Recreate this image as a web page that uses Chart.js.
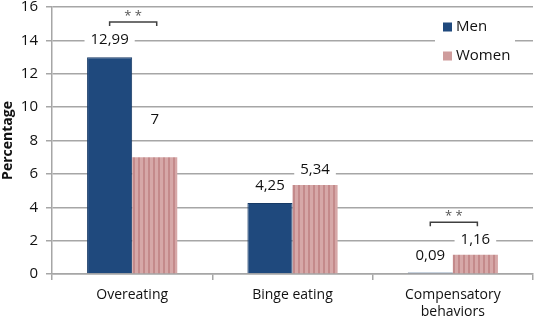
<!DOCTYPE html>
<html>
<head>
<meta charset="utf-8">
<script src="https://cdn.jsdelivr.net/npm/chart.js@4/dist/chart.umd.min.js"></script>
<style>
    html, body { margin: 0; padding: 0; background: #fff; }
    #chart { display: block; }
</style>
</head>
<body>
<canvas id="chart" width="536" height="321"></canvas>
<script>
(function () {
    "use strict";

    // Data
    const categories = ["Overeating", "Binge eating", ["Compensatory", "behaviors"]];
    const men = [12.99, 4.25, 0.09];
    const women = [7, 5.34, 1.16];
    const significance = ["**", null, "**"];
    const yTicks = [0, 2, 4, 6, 8, 10, 12, 14, 16];

    const FONT = "'Open Sans', 'Noto Sans', sans-serif";

    // striped fill for women bars
    function stripes() {
        const c = document.createElement("canvas");
        c.width = 5;
        c.height = 10;
        const g = c.getContext("2d");
        g.fillStyle = "#d6a8a8";
        g.fillRect(0, 0, 5, 10);
        g.fillStyle = "#c48a8b";
        g.fillRect(3, 0, 2, 10);
        return g.createPattern(c, "repeat");
    }

    function fmt(v) {
        return String(v).replace(".", ",");
    }

    // value labels, significance brackets and legend
    const annotations = {
        id: "annotations",
        afterDatasetsDraw(chart, args, opts) {
            const ctx = chart.ctx;
            const y = chart.scales.y;
            ctx.save();
            ctx.font = "15px " + FONT;
            ctx.textAlign = "center";
            ctx.textBaseline = "middle";
            chart.data.datasets.forEach((ds, di) => {
                const meta = chart.getDatasetMeta(di);
                meta.data.forEach((bar, i) => {
                    const txt = fmt(ds.data[i]);
                    const lift = opts.lift[di][i];
                    const cy = bar.y - lift;
                    const w = ctx.measureText(txt).width + 12;
                    ctx.fillStyle = "#fff";
                    ctx.fillRect(bar.x - w / 2, cy - 9, w, 18);
                    ctx.fillStyle = "#111";
                    ctx.fillText(txt, bar.x, cy);
                });
            });

            // brackets
            const m0 = chart.getDatasetMeta(0).data;
            const m1 = chart.getDatasetMeta(1).data;
            significance.forEach((s, i) => {
                if (!s) return;
                const by = y.getPixelForValue(opts.bracketAt[i]);
                const x0 = m0[i].x;
                const x1 = m1[i].x + 2;
                ctx.strokeStyle = "#404040";
                ctx.lineWidth = 1.5;
                ctx.beginPath();
                ctx.moveTo(x0, by + 4);
                ctx.lineTo(x0, by);
                ctx.lineTo(x1, by);
                ctx.lineTo(x1, by + 4);
                ctx.stroke();
                ctx.fillStyle = "#555";
                ctx.font = "13px " + FONT;
                ctx.fillText(s.split("").join(" "), (x0 + x1) / 2, by - 6);
            });

            // legend
            const lx = 435, ly = 15;
            ctx.fillStyle = "#fff";
            ctx.fillRect(lx, ly, 80, 56);
            ctx.font = "15px " + FONT;
            ctx.textAlign = "left";
            chart.data.datasets.forEach((ds, di) => {
                const ry = ly + 12 + di * 29;
                ctx.fillStyle = ds.legendColor;
                ctx.fillRect(lx + 8, ry - 4.5, 9, 9);
                ctx.fillStyle = "#111";
                ctx.fillText(ds.label, lx + 21, ry);
            });
            ctx.restore();
        },
    };

    const ctx = document.getElementById("chart").getContext("2d");

    new Chart(ctx, {
        type: "bar",
        data: {
            labels: categories,
            datasets: [
                {
                    label: "Men",
                    data: men,
                    backgroundColor: "#1f497d",
                    borderColor: "#173a66",
                    borderWidth: 1,
                    legendColor: "#1f497d",
                    categoryPercentage: 0.5625,
                    barPercentage: 1,
                },
                {
                    label: "Women",
                    data: women,
                    backgroundColor: stripes(),
                    borderWidth: 0,
                    legendColor: "#cf9c9c",
                    categoryPercentage: 0.5625,
                    barPercentage: 1,
                },
            ],
        },
        options: {
            responsive: false,
            animation: false,
            layout: {
                padding: { top: 7, right: 3, left: 0, bottom: 0 },
            },
            plugins: {
                legend: { display: false },
                tooltip: { enabled: false },
                annotations: {
                    lift: [
                        [17, 17, 17],
                        [37, 15, 15],
                    ],
                    bracketAt: [15.1, null, 3.1],
                },
            },
            scales: {
                x: {
                    grid: {
                        drawOnChartArea: false,
                        color: "#a6a6a6",
                        lineWidth: 1.5,
                        tickLength: 6,
                    },
                    border: { color: "#a6a6a6", width: 1.5 },
                    ticks: {
                        color: "#111",
                        font: { family: FONT, size: 14, lineHeight: 1.25 },
                        maxRotation: 0,
                        padding: 6,
                    },
                    afterFit(scale) {
                        scale.height = 47;
                        scale.paddingLeft = 0;
                        scale.paddingRight = 0;
                    },
                },
                y: {
                    min: 0,
                    max: 16,
                    afterBuildTicks(scale) {
                        scale.ticks = yTicks.map((v) => ({ value: v }));
                    },
                    grid: {
                        color: "#a6a6a6",
                        lineWidth: 1.5,
                        tickLength: 6,
                    },
                    border: { color: "#a6a6a6", width: 1.5 },
                    ticks: {
                        color: "#111",
                        font: { family: FONT, size: 15 },
                        padding: 8,
                    },
                    title: {
                        display: true,
                        text: "Percentage",
                        color: "#111",
                        font: { family: FONT, size: 14, weight: "bold" },
                        padding: 0,
                    },
                    afterFit(scale) {
                        scale.width = 52;
                        scale.paddingTop = 0;
                        scale.paddingBottom = 0;
                    },
                },
            },
        },
        plugins: [annotations],
    });
})();
</script>
</body>
</html>
